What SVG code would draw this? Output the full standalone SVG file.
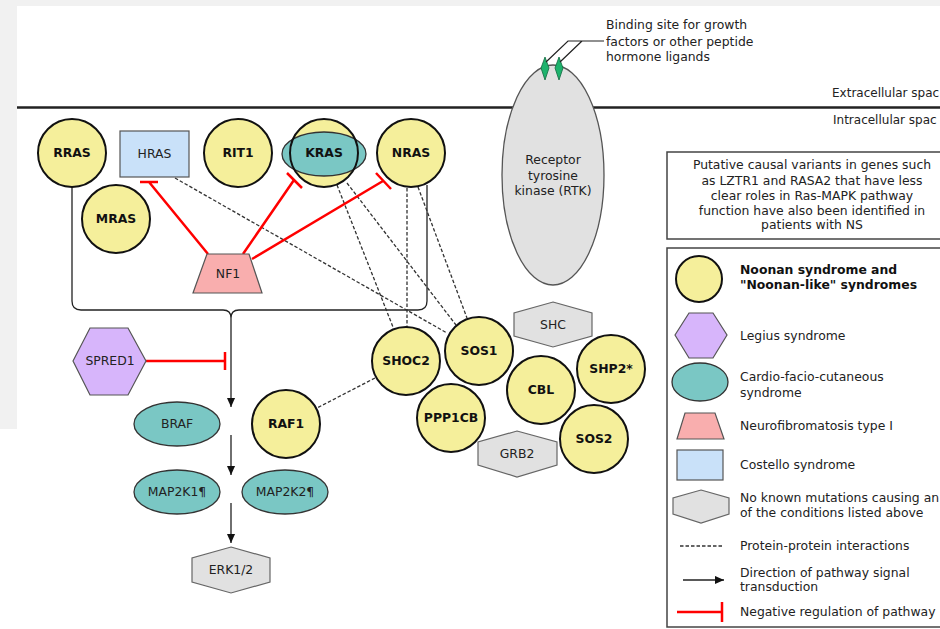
<svg xmlns="http://www.w3.org/2000/svg" width="940" height="629" viewBox="0 0 940 629">
<defs>
<marker id="arr" viewBox="0 0 10 10" refX="10" refY="5" markerWidth="9" markerHeight="9" markerUnits="userSpaceOnUse" orient="auto">
<path d="M0,0.5 L10,5 L0,9.5 z" fill="#111"/>
</marker>
<style>
text{font-family:"DejaVu Sans","Liberation Sans",sans-serif;font-size:12.4px;fill:#222}
.c{text-anchor:middle}
.b{font-weight:bold;fill:#111}
.sm{font-size:12px}
.ns{fill:#f5ef9b;stroke:#111;stroke-width:2}
.cfc{fill:#7ac7c4;stroke:#333;stroke-width:1.3}
.gray{fill:#e1e1e1;stroke:#666;stroke-width:1.2}
.nf{fill:#f9aeae;stroke:#555;stroke-width:1.2}
.cs{fill:#c9e1f9;stroke:#555;stroke-width:1.2}
.lg{fill:#d7b5fb;stroke:#555;stroke-width:1.2}
.ppi{stroke:#333;stroke-width:1.3;stroke-dasharray:3.5,2;fill:none}
.neg{stroke:#f00;stroke-width:2.5;fill:none}
.sig{stroke:#222;stroke-width:1.3;fill:none}
.box{fill:#fff;stroke:#444;stroke-width:1.5}
</style>
</defs>
<rect x="0" y="0" width="940" height="629" fill="#fff"/>
<rect x="0" y="0" width="940" height="6" fill="#f1f1f1"/>
<rect x="0" y="0" width="17" height="429" fill="#f1f1f1"/>

<line x1="17" y1="107.5" x2="940" y2="107.5" stroke="#222" stroke-width="2.5"/>
<text class="sm" x="832" y="97">Extracellular spac</text>
<text class="sm" x="833" y="124">Intracellular spac</text>

<g id="rtk">
<ellipse cx="553" cy="175" rx="51" ry="110" fill="#e1e1e1" stroke="#555" stroke-width="1.3"/>
<text class="c" x="553" y="164">Receptor</text>
<text class="c" x="553" y="180">tyrosine</text>
<text class="c" x="553" y="195">kinase (RTK)</text>
<path d="M545,57 L549,68 L545,80 L541,68 z" fill="#1db36d" stroke="#116a40" stroke-width="0.8"/>
<path d="M559,57 L563,68 L559,80 L555,68 z" fill="#1db36d" stroke="#116a40" stroke-width="0.8"/>
<path d="M546,62 L568,41 L604,41 M560,62 L582,41" fill="none" stroke="#222" stroke-width="1.2"/>
<text x="606" y="29">Binding site for growth</text>
<text x="606" y="46">factors or other peptide</text>
<text x="606" y="61">hormone ligands</text>
</g>

<g id="connectors">
<path class="sig" d="M72,187 L72,301 Q72,310 81,310 L223,310 Q231,310 231,318 Q231,310 239,310 L418,310 Q427,310 427,301 L427,185"/>
<line class="sig" x1="231" y1="318" x2="231" y2="407" marker-end="url(#arr)"/>
<line class="sig" x1="231" y1="435" x2="231" y2="475" marker-end="url(#arr)"/>
<line class="sig" x1="231" y1="503" x2="231" y2="543" marker-end="url(#arr)"/>
<line class="ppi" x1="175" y1="178" x2="447" y2="333"/>
<line class="ppi" x1="337" y1="185" x2="393" y2="327"/>
<line class="ppi" x1="347" y1="183" x2="456" y2="325"/>
<line class="ppi" x1="407" y1="188" x2="407" y2="327"/>
<line class="ppi" x1="418" y1="187" x2="467" y2="318"/>
<line class="ppi" x1="375" y1="378" x2="317" y2="408"/>
<path class="neg" d="M208,254 L149,182 M140,182 L158,182"/>
<path class="neg" d="M243,254 L294,180 M287,173 L302,188"/>
<path class="neg" d="M252,259 L383,181 M376,173 L391,189"/>
<path class="neg" d="M146,361 L225,361 M225,352 L225,370"/>
</g>

<g id="RRAS"><circle class="ns" cx="72" cy="153" r="34"/><text class="c b" x="72" y="157">RRAS</text></g>
<g id="HRAS"><rect class="cs" x="120" y="131" width="69" height="46"/><text class="c" x="154.5" y="158">HRAS</text></g>
<g id="RIT1"><circle class="ns" cx="238" cy="153" r="34"/><text class="c b" x="238" y="157">RIT1</text></g>
<g id="KRAS"><circle cx="324" cy="153" r="34" fill="#f5ef9b"/><ellipse class="cfc" cx="324" cy="154" rx="42" ry="22" stroke-width="1.6"/><circle cx="324" cy="153" r="34" fill="none" stroke="#111" stroke-width="2"/><text class="c b" x="324" y="157">KRAS</text></g>
<g id="NRAS"><circle class="ns" cx="411" cy="153" r="34"/><text class="c b" x="411" y="157">NRAS</text></g>
<g id="MRAS"><circle class="ns" cx="116" cy="219" r="34"/><text class="c b" x="116" y="223">MRAS</text></g>
<g id="NF1"><path class="nf" d="M207,254 L249,254 L262,293 L193,293 z"/><text class="c" x="228" y="278">NF1</text></g>
<g id="SPRED1"><path class="lg" d="M73,361 L90,328 L128,328 L146,361 L128,395 L90,395 z"/><text class="c" x="110" y="365">SPRED1</text></g>
<g id="BRAF"><ellipse class="cfc" cx="177" cy="424" rx="43" ry="22"/><text class="c" x="177" y="428">BRAF</text></g>
<g id="RAF1"><circle class="ns" cx="286" cy="424" r="34"/><text class="c b" x="286" y="428">RAF1</text></g>
<g id="MAP2K1"><ellipse class="cfc" cx="177" cy="492" rx="43" ry="22"/><text class="c" x="177" y="496">MAP2K1¶</text></g>
<g id="MAP2K2"><ellipse class="cfc" cx="285" cy="492" rx="43" ry="22"/><text class="c" x="285" y="496">MAP2K2¶</text></g>
<g id="ERK"><path class="gray" d="M231,547 L270,558 L270,582 L231,593 L192,582 L192,558 z"/><text class="c" x="231" y="574">ERK1/2</text></g>
<g id="SHOC2"><circle class="ns" cx="406" cy="361" r="34"/><text class="c b" x="406" y="365">SHOC2</text></g>
<g id="SOS1"><circle class="ns" cx="479" cy="351" r="34"/><text class="c b" x="479" y="355">SOS1</text></g>
<g id="PPP1CB"><circle class="ns" cx="451" cy="418" r="34"/><text class="c b" x="451" y="422">PPP1CB</text></g>
<g id="CBL"><circle class="ns" cx="541" cy="390" r="34"/><text class="c b" x="541" y="394">CBL</text></g>
<g id="SHP2"><circle class="ns" cx="611" cy="369" r="34"/><text class="c b" x="611" y="373">SHP2*</text></g>
<g id="SOS2"><circle class="ns" cx="594" cy="439" r="34"/><text class="c b" x="594" y="443">SOS2</text></g>
<g id="SHC"><path class="gray" d="M553,302 L592,313 L592,336 L553,347 L514,336 L514,313 z"/><text class="c" x="553" y="329">SHC</text></g>
<g id="GRB2"><path class="gray" d="M517,431 L557,442 L557,465 L517,477 L478,465 L478,442 z"/><text class="c" x="517" y="458">GRB2</text></g>

<g id="note">
<rect class="box" x="667" y="152" width="290" height="87"/>
<text class="c" x="812" y="169">Putative causal variants in genes such</text>
<text class="c" x="812" y="185">as LZTR1 and RASA2 that have less</text>
<text class="c" x="812" y="200">clear roles in Ras-MAPK pathway</text>
<text class="c" x="812" y="215">function have also been identified in</text>
<text class="c" x="812" y="229">patients with NS</text>
</g>

<g id="legend">
<rect class="box" x="667" y="248" width="290" height="379"/>
<circle class="ns" cx="699" cy="279" r="23"/>
<text class="b" x="740" y="274">Noonan syndrome and</text>
<text class="b" x="740" y="289">"Noonan-like" syndromes</text>
<path class="lg" d="M675,335 L689,313 L713,313 L727,335 L713,358 L689,358 z"/>
<text x="740" y="340">Legius syndrome</text>
<ellipse class="cfc" cx="700" cy="382" rx="28" ry="19"/>
<text x="740" y="381">Cardio-facio-cutaneous</text>
<text x="740" y="397">syndrome</text>
<path class="nf" d="M685,413 L715,413 L724,439 L677,439 z"/>
<text x="740" y="430">Neurofibromatosis type I</text>
<rect class="cs" x="677" y="450" width="46" height="30"/>
<text x="740" y="469">Costello syndrome</text>
<path class="gray" d="M701,490 L729,498 L729,514 L701,523 L673,514 L673,498 z"/>
<text x="740" y="502">No known mutations causing an</text>
<text x="740" y="517">of the conditions listed above</text>
<line class="ppi" x1="680" y1="546" x2="722" y2="546"/>
<text x="740" y="550">Protein-protein interactions</text>
<line class="sig" x1="683" y1="580" x2="724" y2="580" marker-end="url(#arr)"/>
<text x="740" y="577">Direction of pathway signal</text>
<text x="740" y="591">transduction</text>
<path class="neg" d="M677,612 L722,612 M722,602 L722,622"/>
<text x="740" y="616">Negative regulation of pathway</text>
</g>
</svg>
